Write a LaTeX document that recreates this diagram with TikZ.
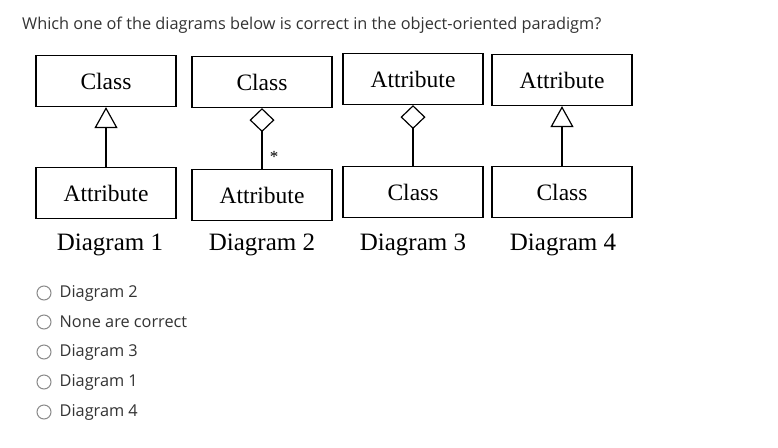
\documentclass[tikz,border=0pt]{standalone}
\usepackage{fontspec}
\setmainfont{Liberation Serif}
\newfontfamily\uifont{Open Sans}
\usepackage{xcolor}
\definecolor{questionText}{HTML}{333333}
\definecolor{radioGray}{HTML}{8A8A8A}
\usepackage{tikz}
\usetikzlibrary{
    arrows.meta,
    positioning
}
\tikzset{
    % UML class boxes
    umlbox/.style={
        draw=black,
        line width=1.2pt,
        rectangle,
        minimum width=140pt,
        minimum height=51pt,
        font=\fontsize{23.5}{26}\selectfont,
        inner sep=0pt,
    },
    % Inheritance arrow - open triangle
    inherit/.style={
        -{Triangle[open,length=21pt,width=23pt,line width=1.2pt]},
        line width=1.2pt,
    },
    % Aggregation - open diamond at the whole
    aggregate/.style={
        {Diamond[open,length=24pt,width=25pt,line width=1.2pt]}-,
        line width=1.2pt,
    },
    % Caption under each diagram
    caption/.style={
        font=\fontsize{25}{28}\selectfont,
        inner sep=0pt,
    },
    % Radio buttons and answers
    radio/.style={
        circle,
        draw=radioGray,
        line width=1pt,
        minimum size=14pt,
        inner sep=0pt,
    },
    answer/.style={
        font=\uifont\fontsize{16.3}{19}\selectfont,
        text=questionText,
        inner sep=0pt,
        anchor=west,
    },
}
\begin{document}
\begin{tikzpicture}[x=1pt, y=-1pt]
    \fill[white] (0,0) rectangle (778,447);
    \useasboundingbox (0,0) rectangle (778,447);

    \node (question) [answer, anchor=base west] at (22,29)
        {Which one of the diagrams below is correct in the object-oriented paradigm?};

    % top row
    \node (top1) [umlbox] at (106,81) {Class};
    \node (top2) [umlbox] at (262,82) {Class};
    \node (top3) [umlbox] at (413,79) {Attribute};
    \node (top4) [umlbox] at (562,80) {Attribute};

    % bottom row
    \node (bot1) [umlbox] at (106,193) {Attribute};
    \node (bot2) [umlbox] at (262,195) {Attribute};
    \node (bot3) [umlbox] at (413,192) {Class};
    \node (bot4) [umlbox] at (562,192) {Class};

    \draw [inherit] (bot1) -- (top1);
    \draw [aggregate] (top2) -- node [pos=0.8, right=4pt, font=\fontsize{17}{17}\selectfont] {*} (bot2);
    \draw [aggregate] (top3) -- (bot3);
    \draw [inherit] (bot4) -- (top4);

    % captions
    \node (cap1) [caption] at (110,245) {Diagram 1};
    \node (cap2) [caption] at (262,245) {Diagram 2};
    \node (cap3) [caption] at (413,245) {Diagram 3};
    \node (cap4) [caption] at (563,245) {Diagram 4};

    % answers
    \node (r1) [radio] at (44,293) {};
    \node (r2) [radio] at (44,322) {};
    \node (r3) [radio] at (44,352) {};
    \node (r4) [radio] at (44,382) {};
    \node (r5) [radio] at (44,412) {};
    \node (a1) [answer, right=8pt of r1] {Diagram 2};
    \node (a2) [answer, right=8pt of r2] {None are correct};
    \node (a3) [answer, right=8pt of r3] {Diagram 3};
    \node (a4) [answer, right=8pt of r4] {Diagram 1};
    \node (a5) [answer, right=8pt of r5] {Diagram 4};
\end{tikzpicture}
\end{document}
